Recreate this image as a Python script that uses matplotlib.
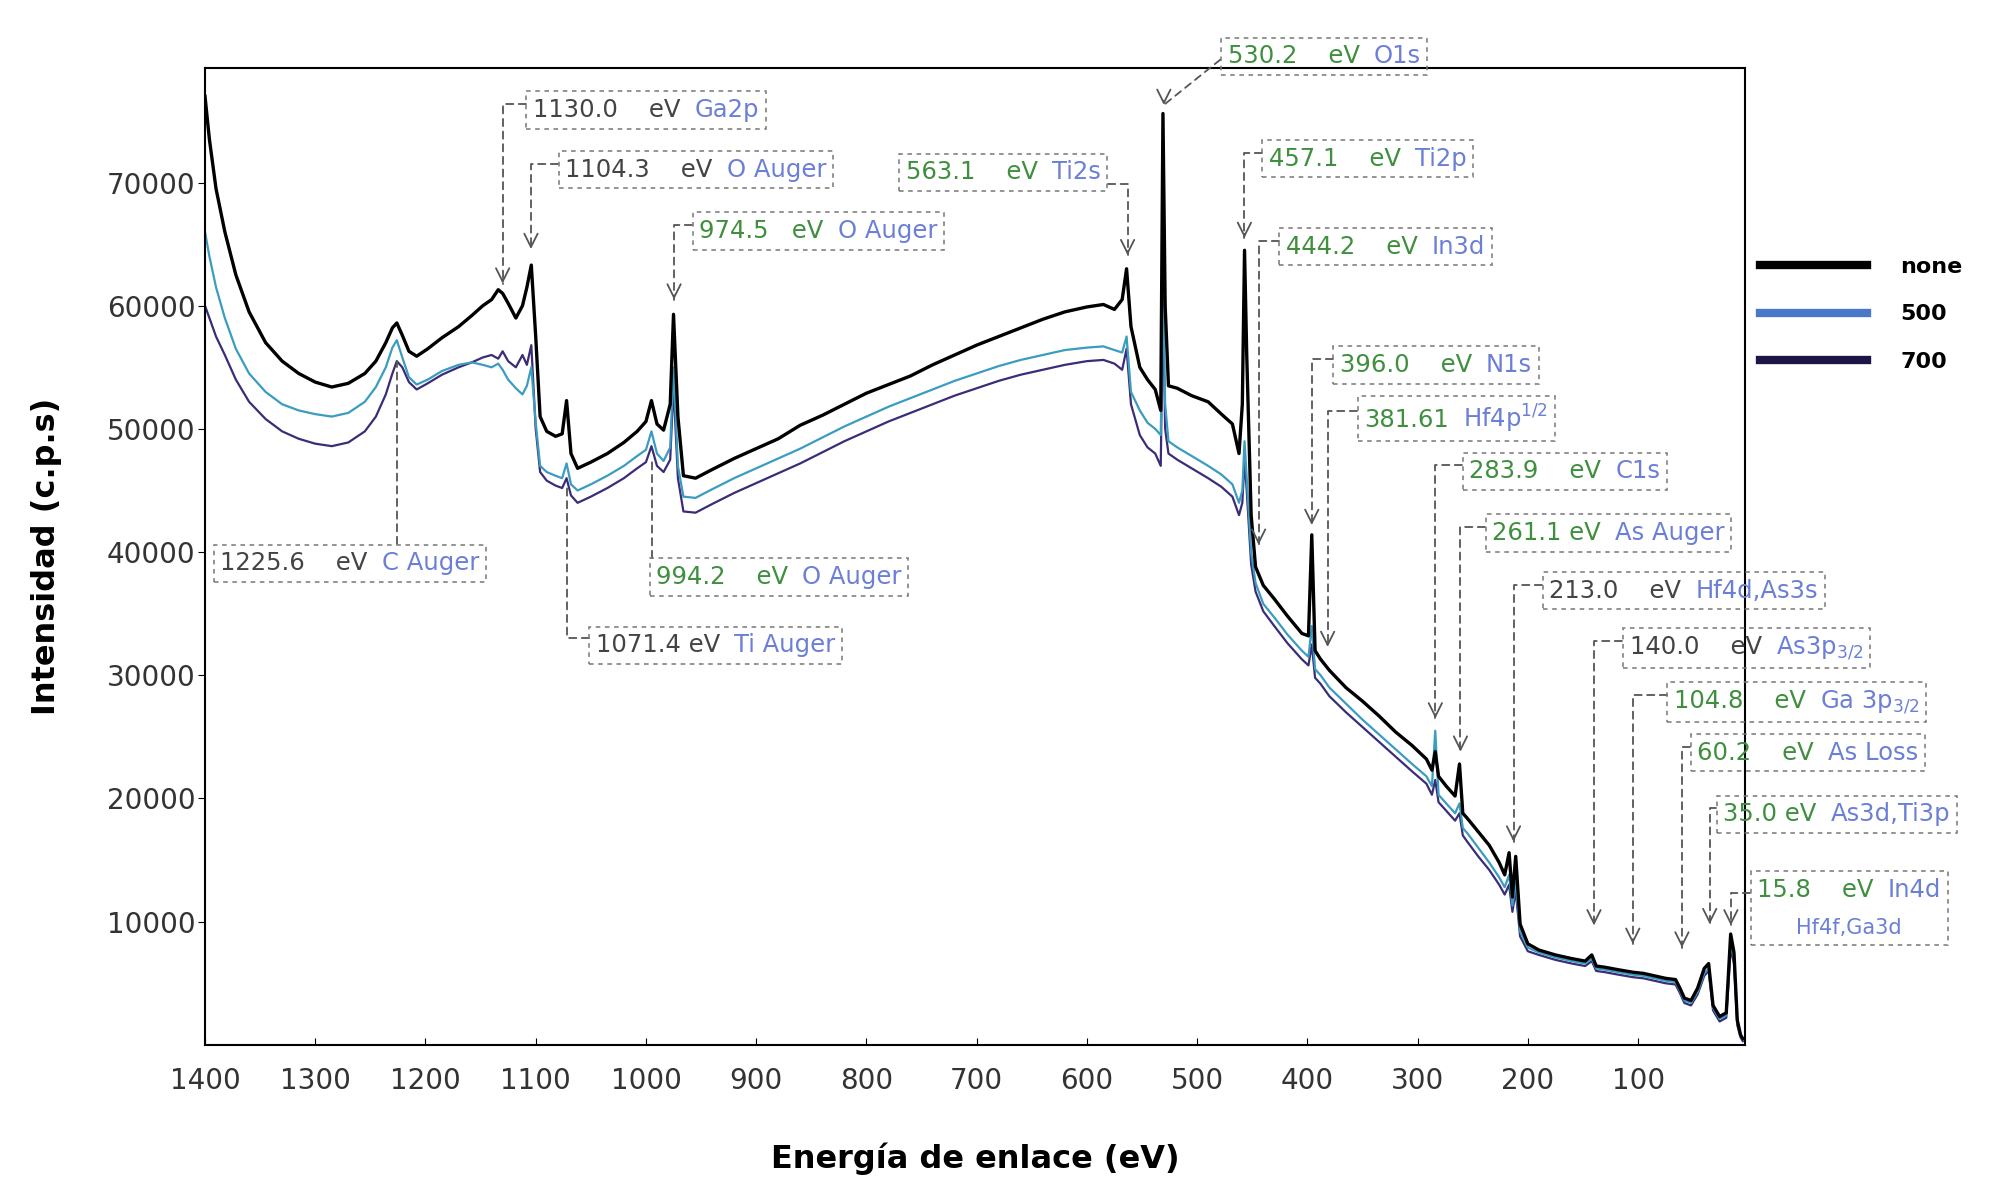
import matplotlib
matplotlib.use("Agg")
import matplotlib.pyplot as plt
from matplotlib.offsetbox import AnnotationBbox, TextArea, HPacker, VPacker

# energia de enlace (eV), eje invertido
energia = [1400, 1396, 1390, 1382, 1372, 1360, 1345, 1330, 1315, 1300,
           1285, 1270, 1255, 1245, 1236, 1230, 1226, 1221, 1215, 1208,
           1198, 1185, 1170, 1158, 1148, 1140, 1134, 1130, 1125, 1118,
           1112, 1108, 1104, 1100, 1096, 1090, 1082, 1076, 1072, 1068,
           1062, 1050, 1035, 1020, 1008, 1000, 995, 990, 984, 978,
           975, 971, 966, 955, 940, 920, 900, 880, 860, 840,
           820, 800, 780, 760, 740, 720, 700, 680, 660, 640,
           620, 600, 585, 575, 568, 564, 560, 552, 545, 538,
           533, 531, 529, 526, 518, 505, 490, 478, 468, 462,
           459, 457, 455, 451, 447, 440, 430, 418, 405, 399,
           396, 393, 388, 380, 365, 350, 335, 320, 305, 292,
           287, 284, 281, 274, 266, 262, 259, 255, 245, 235,
           226, 221, 217, 214, 211, 207, 200, 190, 175, 160,
           148, 142, 138, 130, 118, 105, 95, 85, 75, 66,
           62, 58, 52, 46, 40, 36, 32, 26, 20, 16,
           13, 10, 7, 5]

int_none = [77000, 73500, 69500, 66000, 62500, 59500, 57000, 55500, 54500, 53800,
            53400, 53700, 54500, 55500, 57000, 58200, 58600, 57600, 56300, 55900,
            56500, 57400, 58300, 59200, 60000, 60500, 61300, 61000, 60200, 59000,
            60000, 61500, 63300, 57500, 51000, 49800, 49400, 49600, 52300, 48000,
            46800, 47300, 48000, 48900, 49800, 50600, 52300, 50400, 49900, 52000,
            59300, 51000, 46200, 46000, 46700, 47600, 48400, 49200, 50300, 51100,
            52000, 52900, 53600, 54300, 55200, 56000, 56800, 57500, 58200, 58900,
            59500, 59900, 60100, 59700, 60500, 63000, 58300, 55000, 54000, 53200,
            51500, 75600, 60000, 53500, 53300, 52700, 52200, 51200, 50400, 48000,
            52000, 64500, 56000, 43000, 38800, 37300, 36200, 34800, 33400, 33200,
            41400, 32000, 31300, 30400, 29000, 27900, 26700, 25400, 24300, 23200,
            22300, 23800, 21800, 21000, 20200, 22800, 18800, 18400, 17300, 16200,
            14800, 13800, 15600, 12000, 15300, 9800, 8200, 7700, 7300, 7000,
            6800, 7300, 6400, 6300, 6100, 5900, 5800, 5600, 5400, 5300,
            4600, 3800, 3600, 4600, 6200, 6600, 3200, 2300, 2600, 9000,
            7500, 2000, 800, 500]

int_500 = [66000, 64000, 61500, 59000, 56500, 54500, 53000, 52000, 51500, 51200,
           51000, 51300, 52200, 53400, 55000, 56600, 57200, 55800, 54200, 53600,
           54000, 54700, 55200, 55400, 55200, 55000, 55300, 54800, 54000, 53300,
           52800, 53500, 55000, 50500, 47000, 46500, 46200, 46000, 47200, 45500,
           45000, 45500, 46200, 47000, 47800, 48300, 49800, 48000, 47400, 48500,
           55000, 47000, 44500, 44400, 45100, 46000, 46800, 47600, 48400, 49300,
           50200, 51000, 51800, 52500, 53200, 53900, 54500, 55100, 55600, 56000,
           56400, 56600, 56700, 56400, 56200, 57500, 53000, 51500, 50500, 50000,
           49500, 62000, 52000, 49000, 48500, 47800, 47000, 46300, 45500, 44000,
           45000, 49000, 46000, 40000, 37500, 35800, 34700, 33300, 32000, 31500,
           34000, 30500, 30000, 29000, 27700, 26400, 25200, 24000, 22800, 21800,
           21000, 25500, 20300, 19600, 18800, 19600, 17600, 17200, 16000, 14800,
           13600, 12800, 13800, 11300, 13200, 9200, 7900, 7500, 7100, 6800,
           6600, 7000, 6200, 6100, 5900, 5700, 5600, 5400, 5200, 5100,
           4400, 3600, 3400, 4300, 5800, 6200, 3000, 2100, 2400, 8200,
           7000, 1800, 700, 400]

int_700 = [60000, 59000, 57500, 56000, 54000, 52200, 50800, 49800, 49200, 48800,
           48600, 48900, 49800, 51000, 52800, 54500, 55500, 55000, 53800, 53200,
           53700, 54400, 55000, 55400, 55800, 56000, 55700, 56300, 55500, 55000,
           56000, 55200, 56800, 50000, 46500, 45800, 45400, 45200, 46000, 44600,
           44000, 44500, 45200, 46000, 46800, 47300, 48600, 47000, 46500, 47500,
           53500, 46000, 43300, 43200, 43900, 44800, 45600, 46400, 47200, 48100,
           49000, 49800, 50600, 51300, 52000, 52700, 53300, 53900, 54400, 54800,
           55200, 55500, 55600, 55300, 54800, 56500, 52000, 49500, 48500, 48000,
           47000, 60500, 50000, 48000, 47500, 46800, 46000, 45300, 44500, 43000,
           44000, 47500, 45000, 39000, 36800, 35200, 34000, 32600, 31300, 30800,
           32500, 29800, 29300, 28300, 27000, 25800, 24600, 23400, 22200, 21200,
           20300, 21500, 19700, 19000, 18200, 18800, 17000, 16500, 15300, 14200,
           13000, 12200, 13000, 10800, 12500, 8800, 7600, 7300, 6900, 6600,
           6400, 6800, 6000, 5900, 5700, 5500, 5400, 5200, 5000, 4900,
           4200, 3400, 3200, 4100, 5600, 6000, 2800, 1900, 2200, 7800,
           6600, 1600, 600, 300]

# picos anotados
pico_energia = [1130.0, 1104.3, 974.5, 563.1, 530.2, 457.1, 444.2, 396.0, 381.61, 283.9,
                261.1, 213.0, 140.0, 104.8, 60.2, 35.0, 15.8, 1225.6, 994.2, 1071.4]
pico_int = [61800, 64600, 60500, 64100, 76300, 65500, 40600, 42200, 32300, 26500,
            23800, 16500, 9700, 8200, 7900, 9800, 9700, 55500, 47500, 45500]
pico_num = ["1130.0    eV", "1104.3    eV", "974.5   eV", "563.1    eV", "530.2    eV",
            "457.1    eV", "444.2    eV", "396.0    eV", "381.61", "283.9    eV",
            "261.1 eV", "213.0    eV", "140.0    eV", "104.8    eV", "60.2    eV",
            "35.0 eV", "15.8    eV", "1225.6    eV", "994.2    eV", "1071.4 eV"]
pico_nombre = ["Ga2p", "O Auger", "O Auger", "Ti2s", "O1s", "Ti2p", "In3d", "N1s",
               r"Hf4p$^{1/2}$", "C1s", "As Auger", "Hf4d,As3s", r"As3p$_{3/2}$",
               r"Ga 3p$_{3/2}$", "As Loss", "As3d,Ti3p", "In4d", "C Auger",
               "O Auger", "Ti Auger"]

# posiciones de las cajas (fraccion de ejes) y enganche de la flecha
caja_pos = [(0.213, 0.957), (0.234, 0.896), (0.321, 0.833), (0.455, 0.893), (0.664, 1.012),
            (0.691, 0.907), (0.702, 0.817), (0.737, 0.696), (0.753, 0.641), (0.821, 0.587),
            (0.836, 0.524), (0.873, 0.465), (0.925, 0.406), (0.954, 0.351), (0.969, 0.299),
            (0.986, 0.236), (1.008, 0.140), (0.010, 0.493), (0.293, 0.479), (0.254, 0.409)]
caja_rel = [(0, 0.75)] * 20
caja_rel[3] = (0.97, 0)
caja_rel[4] = (0, 0.6)
caja_rel[17] = (0.5, 1)
caja_rel[19] = (0, 0.8)

verde = "#3f8f3f"
gris = "#444444"
azul = "#6b7fd6"
col_num = [gris, gris, verde, verde, verde, verde, verde, verde, verde, verde,
           verde, gris, gris, verde, verde, verde, verde, gris, verde, gris]

fig = plt.figure(figsize=(20, 11.86), dpi=100)
ax = fig.add_axes([0.1025, 0.119, 0.77, 0.8237])

l700, = ax.plot(energia, int_700, color="#3b2c78", lw=1.6, label="700")
l500, = ax.plot(energia, int_500, color="#3a9cc0", lw=1.6, label="500")
lnone, = ax.plot(energia, int_none, color="black", lw=2.4, label="none")

ax.set_xlim(1400, 3)
ax.set_ylim(0, 79300)
ax.set_xticks(range(1400, 0, -100))
ax.set_yticks(range(10000, 80000, 10000))
ax.tick_params(axis="x", direction="in", length=5, pad=16, labelsize=20, labelcolor="#333")
ax.tick_params(axis="y", direction="out", length=5, pad=2, labelsize=20, labelcolor="#333")
for s in ax.spines.values():
    s.set_linewidth(1.5)

ax.set_xlabel("Energía de enlace (eV)", fontsize=23, fontweight="bold", labelpad=34)
ax.set_ylabel("Intensidad (c.p.s)", fontsize=23, fontweight="bold", labelpad=32)

leg = ax.legend([lnone, l500, l700], ["none", "500", "700"], loc="center left",
                bbox_to_anchor=(0.88, 0.735), bbox_transform=fig.transFigure,
                frameon=False, prop=dict(weight="bold", size=16), handlelength=4.8,
                handletextpad=1.5, labelspacing=1.25, borderpad=0, borderaxespad=0)
for linea in leg.get_lines():
    linea.set_linewidth(6)
leg.get_lines()[1].set_color("#4a78c8")
leg.get_lines()[2].set_color("#1c1545")

for i in range(len(pico_energia)):
    e, v = pico_energia[i], pico_int[i]
    fila = HPacker(children=[TextArea(pico_num[i], textprops=dict(color=col_num[i], size=17.5)),
                             TextArea(pico_nombre[i], textprops=dict(color=azul, size=17.5))],
                   align="baseline", pad=0, sep=10)
    if pico_nombre[i] == "In4d":
        fila = VPacker(children=[fila, TextArea("Hf4f,Ga3d", textprops=dict(color=azul, size=15))],
                       align="center", pad=0, sep=12)
    conn = "arc3,rad=0" if i == 4 else "angle,angleA=0,angleB=90,rad=0"
    ab = AnnotationBbox(fila, (e, v), xybox=caja_pos[i], xycoords="data",
                        boxcoords="axes fraction", box_alignment=(0, 0.5),
                        frameon=True, pad=0.4, fontsize=16, annotation_clip=False,
                        bboxprops=dict(boxstyle="square", ls=(0, (3, 3)), ec="#777",
                                       fc="none", lw=1.1),
                        arrowprops=dict(arrowstyle="-", ls=(0, (4, 3)), color="#555", lw=1.3,
                                        connectionstyle=conn, relpos=caja_rel[i],
                                        shrinkA=0, shrinkB=0))
    ax.add_artist(ab)
    if i < 17:
        ax.annotate("", xy=(e, v), xytext=(0, 3), textcoords="offset points",
                    arrowprops=dict(arrowstyle="->", color="#555", lw=1.3,
                                    mutation_scale=24, shrinkA=0, shrinkB=0),
                    annotation_clip=False)

fig.savefig("out.png", dpi=100)
